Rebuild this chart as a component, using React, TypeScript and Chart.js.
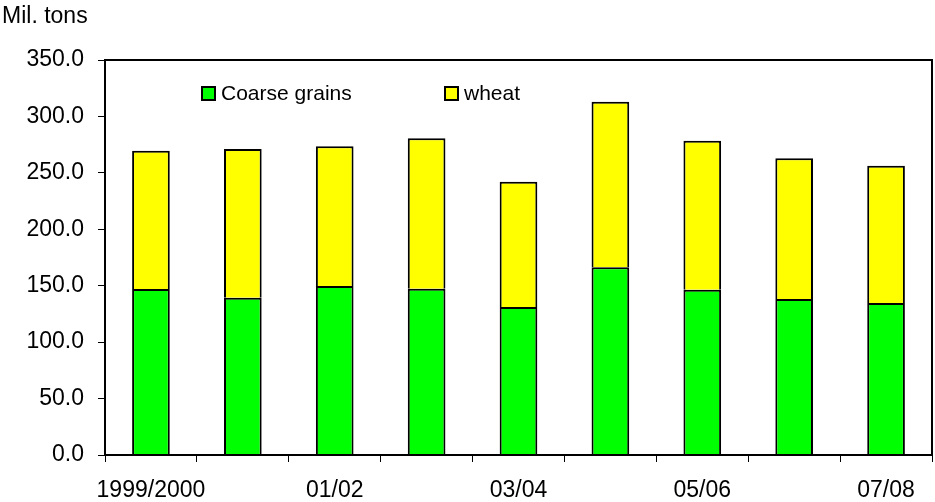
import React, { useEffect, useRef } from "react";
import { Chart, registerables } from "chart.js";

Chart.register(...registerables);

const categories = ["1999/2000", "00/01", "01/02", "02/03", "03/04", "04/05", "05/06", "06/07", "07/08"];
const coarseGrains = [147.1, 139.4, 149.7, 147.4, 131.1, 166.3, 146.5, 138.2, 134.7];
const wheat = [122.5, 131.7, 123.8, 133.2, 111.1, 146.8, 132.0, 124.7, 121.6];
const yTicks = [0, 50, 100, 150, 200, 250, 300, 350];
const unitLabel = "Mil. tons";
const legendLabels = ["Coarse grains", "wheat"];

const FONT = "'Liberation Sans', Arial, sans-serif";

const decorPlugin = {
  id: "decor",
  afterDraw(chart: any) {
    const { ctx, chartArea } = chart;
    ctx.save();
    ctx.strokeStyle = "#000";
    ctx.lineWidth = 2;
    ctx.strokeRect(chartArea.left, chartArea.top, chartArea.right - chartArea.left, chartArea.bottom - chartArea.top);
    ctx.fillStyle = "#000";
    ctx.font = `23px ${FONT}`;
    ctx.textAlign = "left";
    ctx.textBaseline = "alphabetic";
    ctx.fillText(unitLabel, 2, 23);
    const colors = ["#00FF00", "#FFFF00"];
    const xs = [chartArea.left + 97, chartArea.left + 340];
    ctx.font = `21px ${FONT}`;
    ctx.textBaseline = "middle";
    legendLabels.forEach((lab, i) => {
      const bx = xs[i];
      const by = chartArea.top + 27;
      ctx.fillStyle = colors[i];
      ctx.fillRect(bx, by, 13, 13);
      ctx.strokeStyle = "#000";
      ctx.lineWidth = 2;
      ctx.strokeRect(bx, by, 13, 13);
      ctx.fillStyle = "#000";
      ctx.fillText(lab, bx + 19, by + 7);
    });
    ctx.restore();
  },
};

export default function App() {
  const ref = useRef<HTMLCanvasElement>(null);
  useEffect(() => {
    const chart = new Chart(ref.current!, {
      type: "bar",
      data: {
        labels: categories,
        datasets: [
          {
            label: legendLabels[0],
            data: coarseGrains,
            backgroundColor: "#00FF00",
            borderColor: "#000",
            borderWidth: 2,
            categoryPercentage: 1,
            barPercentage: 0.41,
          },
          {
            label: legendLabels[1],
            data: wheat,
            backgroundColor: "#FFFF00",
            borderColor: "#000",
            borderWidth: 2,
            categoryPercentage: 1,
            barPercentage: 0.41,
          },
        ],
      },
      options: {
        responsive: false,
        animation: false,
        layout: { padding: { top: 60, right: 3, left: 0, bottom: 0 } },
        plugins: { legend: { display: false }, tooltip: { enabled: false }, title: { display: false } },
        scales: {
          x: {
            stacked: true,
            grid: { display: true, drawOnChartArea: false, drawTicks: true, tickLength: 7, offset: true, color: "#000", lineWidth: 1 },
            border: { display: true, color: "#000", width: 2 },
            ticks: {
              autoSkip: false,
              maxRotation: 0,
              color: "#000",
              font: { family: FONT, size: 23 },
              padding: 15,
              callback: (v: any, i: number) => (i % 2 === 0 ? categories[i] : ""),
            },
            afterFit: (s: any) => {
              s.height = 47;
            },
          },
          y: {
            stacked: true,
            min: 0,
            max: 350,
            afterBuildTicks: (s: any) => {
              s.ticks = yTicks.map((v) => ({ value: v }));
            },
            grid: { display: true, drawOnChartArea: false, drawTicks: true, tickLength: 7, color: "#000", lineWidth: 1 },
            border: { display: true, color: "#000", width: 2 },
            ticks: {
              color: "#000",
              font: { family: FONT, size: 23 },
              padding: 14,
              callback: (v: any) => Number(v).toFixed(1),
            },
            afterFit: (s: any) => {
              s.width = 105;
            },
          },
        },
      },
      plugins: [decorPlugin],
    });
    return () => chart.destroy();
  }, []);
  return (
    <div style={{ position: "fixed", left: 0, top: 0, width: 935, height: 502, background: "#fff" }}>
      <canvas ref={ref} width={935} height={502} />
    </div>
  );
}
